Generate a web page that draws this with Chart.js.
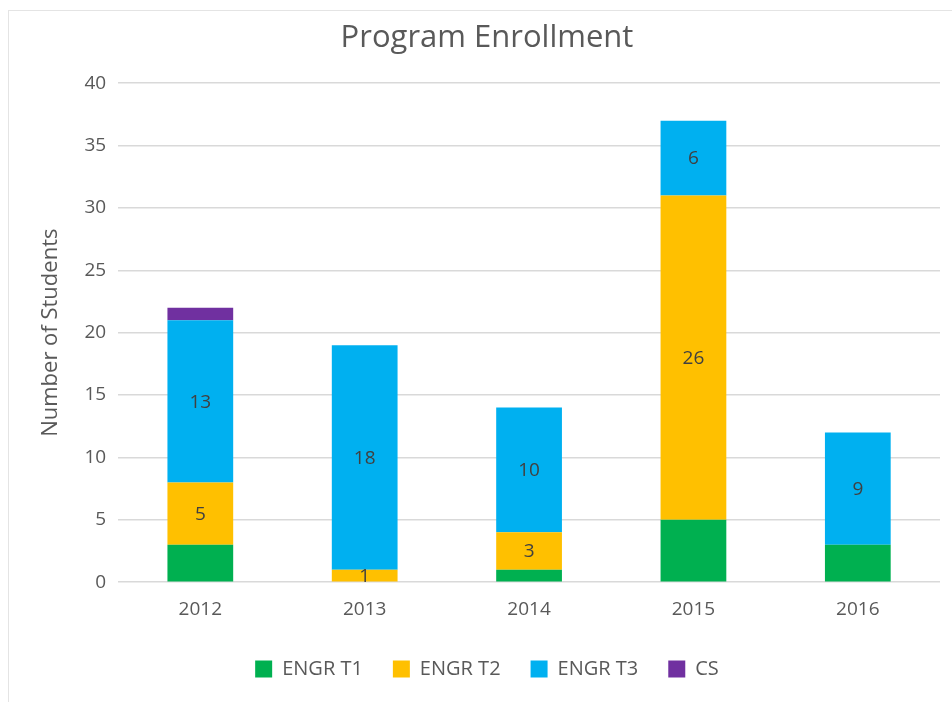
<!DOCTYPE html>
<html lang="en">
<head>
    <meta charset="UTF-8">
    <title>Program Enrollment</title>
    <script src="https://cdn.jsdelivr.net/npm/chart.js"></script>
    <style>
        body { margin: 0; background: #fff; }
        #frame {
            position: absolute; left: 8px; top: 10px; width: 960px; height: 700px;
            border-left: 1px solid #e4e4e4; border-top: 1px solid #e4e4e4;
        }
        #wrap { position: absolute; left: 0; top: 0; width: 952px; height: 702px; }
    </style>
</head>
<body>
    <div id="frame"></div>
    <div id="wrap"><canvas id="enrollChart"></canvas></div>

    <script>
        const years = ['2012', '2013', '2014', '2015', '2016'];
        const engrT1 = [3, 0, 1, 5, 3];
        const engrT2 = [5, 1, 3, 26, 0];
        const engrT3 = [13, 18, 10, 6, 9];
        const cs = [1, 0, 0, 0, 0];

        const textGray = '#595959';

        // values written inside the T2 and T3 segments
        const segmentLabels = {
            id: 'segmentLabels',
            afterDatasetsDraw(chart) {
                const ctx = chart.ctx;
                ctx.save();
                ctx.font = '19px "Open Sans"';
                ctx.fillStyle = '#404040';
                ctx.textAlign = 'center';
                ctx.textBaseline = 'middle';
                chart.data.datasets.forEach((ds, i) => {
                    if (!ds.showValues) return;
                    chart.getDatasetMeta(i).data.forEach((bar, j) => {
                        const v = ds.data[j];
                        if (!v) return;
                        const mid = (bar.y + bar.base) / 2;
                        ctx.fillText(String(v), bar.x, mid + 1);
                    });
                });
                ctx.restore();
            }
        };

        const ctx = document.getElementById('enrollChart').getContext('2d');
        new Chart(ctx, {
            type: 'bar',
            data: {
                labels: years,
                datasets: [
                    { label: 'ENGR T1', data: engrT1, backgroundColor: '#00B050' },
                    { label: 'ENGR T2', data: engrT2, backgroundColor: '#FFC000', showValues: true },
                    { label: 'ENGR T3', data: engrT3, backgroundColor: '#00B0F0', showValues: true },
                    { label: 'CS', data: cs, backgroundColor: '#7030A0' }
                ]
            },
            options: {
                responsive: true,
                maintainAspectRatio: false,
                animation: false,
                datasets: { bar: { barPercentage: 0.4, categoryPercentage: 1.0 } },
                layout: { padding: { left: 34, right: 12, top: 20, bottom: 13 } },
                plugins: {
                    title: {
                        display: true,
                        text: 'Program Enrollment',
                        color: textGray,
                        font: { family: 'Open Sans', size: 31, weight: 'normal' },
                        padding: { top: 0, bottom: 26 }
                    },
                    legend: {
                        position: 'bottom',
                        labels: {
                            color: textGray,
                            font: { family: 'Open Sans', size: 20 },
                            boxWidth: 17,
                            boxHeight: 17,
                            padding: 30
                        }
                    },
                    tooltip: { enabled: false }
                },
                scales: {
                    x: {
                        stacked: true,
                        grid: { display: false },
                        border: { display: false },
                        ticks: { color: textGray, font: { family: 'Open Sans', size: 19 }, padding: 8 }
                    },
                    y: {
                        stacked: true,
                        min: 0,
                        max: 40,
                        ticks: { stepSize: 5, color: textGray, font: { family: 'Open Sans', size: 19 }, padding: 12 },
                        grid: { color: '#d9d9d9', lineWidth: 1.5, drawTicks: false },
                        border: { display: false },
                        title: {
                            display: true,
                            text: 'Number of Students',
                            color: textGray,
                            font: { family: 'Open Sans', size: 22 },
                            padding: { bottom: 8 }
                        }
                    }
                }
            },
            plugins: [segmentLabels]
        });
    </script>
</body>
</html>
